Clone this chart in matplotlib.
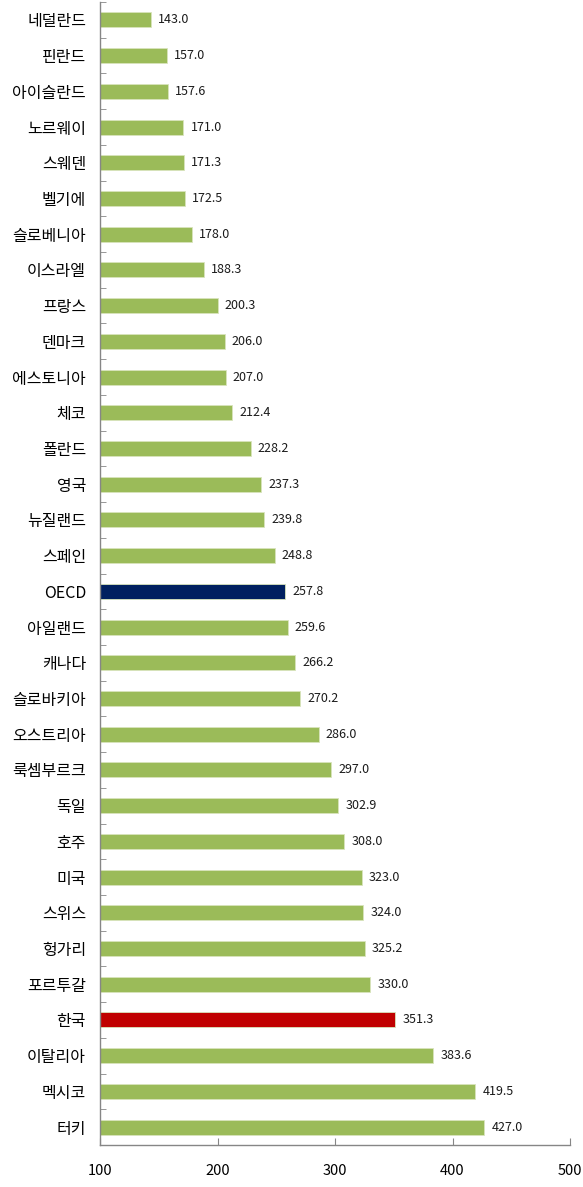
import matplotlib
matplotlib.use("Agg")
import matplotlib.pyplot as plt
import numpy as np

plt.rcParams["font.family"] = ["Noto Sans CJK KR", "DejaVu Sans"]

countries = [
    "네덜란드", "핀란드", "아이슬란드", "노르웨이", "스웨덴", "벨기에", "슬로베니아",
    "이스라엘", "프랑스", "덴마크", "에스토니아", "체코", "폴란드", "영국", "뉴질랜드",
    "스페인", "OECD", "아일랜드", "캐나다", "슬로바키아", "오스트리아", "룩셈부르크",
    "독일", "호주", "미국", "스위스", "헝가리", "포르투갈", "한국", "이탈리아",
    "멕시코", "터키",
]
values = [
    143.0, 157.0, 157.6, 171.0, 171.3, 172.5, 178.0, 188.3, 200.3, 206.0, 207.0,
    212.4, 228.2, 237.3, 239.8, 248.8, 257.8, 259.6, 266.2, 270.2, 286.0, 297.0,
    302.9, 308.0, 323.0, 324.0, 325.2, 330.0, 351.3, 383.6, 419.5, 427.0,
]
x_ticks = [100, 200, 300, 400, 500]

base = 100
green, navy, red = "#9bbb59", "#002060", "#c00000"
colors = []
for c in countries:
    if c == "OECD":
        colors.append(navy)
    elif c == "한국":
        colors.append(red)
    else:
        colors.append(green)

fig = plt.figure(figsize=(5.83, 11.87), dpi=100)
ax = fig.add_axes([100 / 583, 1 - 1145 / 1187, 470 / 583, 1143 / 1187])

y = np.arange(len(countries))
widths = np.array(values) - base
ax.barh(y, widths, left=base, height=0.42, color=colors, edgecolor="#d8e4bc",
        linewidth=0.6)
for yi, v in zip(y, values):
    ax.text(v + 6, yi, f"{v:.1f}", va="center", ha="left", fontsize=9,
            color="#1a1a1a")

ax.set_xlim(100, 500)
ax.set_ylim(len(countries) - 0.5, -0.5)
ax.set_xticks(x_ticks)
ax.set_xticklabels([str(t) for t in x_ticks], fontsize=10.5)
ax.tick_params(axis="x", direction="in", length=5, color="#868686", pad=14)

ax.set_yticks(y)
ax.set_yticklabels(countries, fontsize=11.5)
ax.tick_params(axis="y", length=0, pad=10)
ax.set_yticks(np.arange(len(countries) + 1) - 0.5, minor=True)
ax.tick_params(axis="y", which="minor", direction="in", length=4, color="#868686")

for side in ["top", "right"]:
    ax.spines[side].set_visible(False)
for side in ["left", "bottom"]:
    ax.spines[side].set_color("#868686")
    ax.spines[side].set_linewidth(1.0)

fig.savefig("out.png", dpi=100)
